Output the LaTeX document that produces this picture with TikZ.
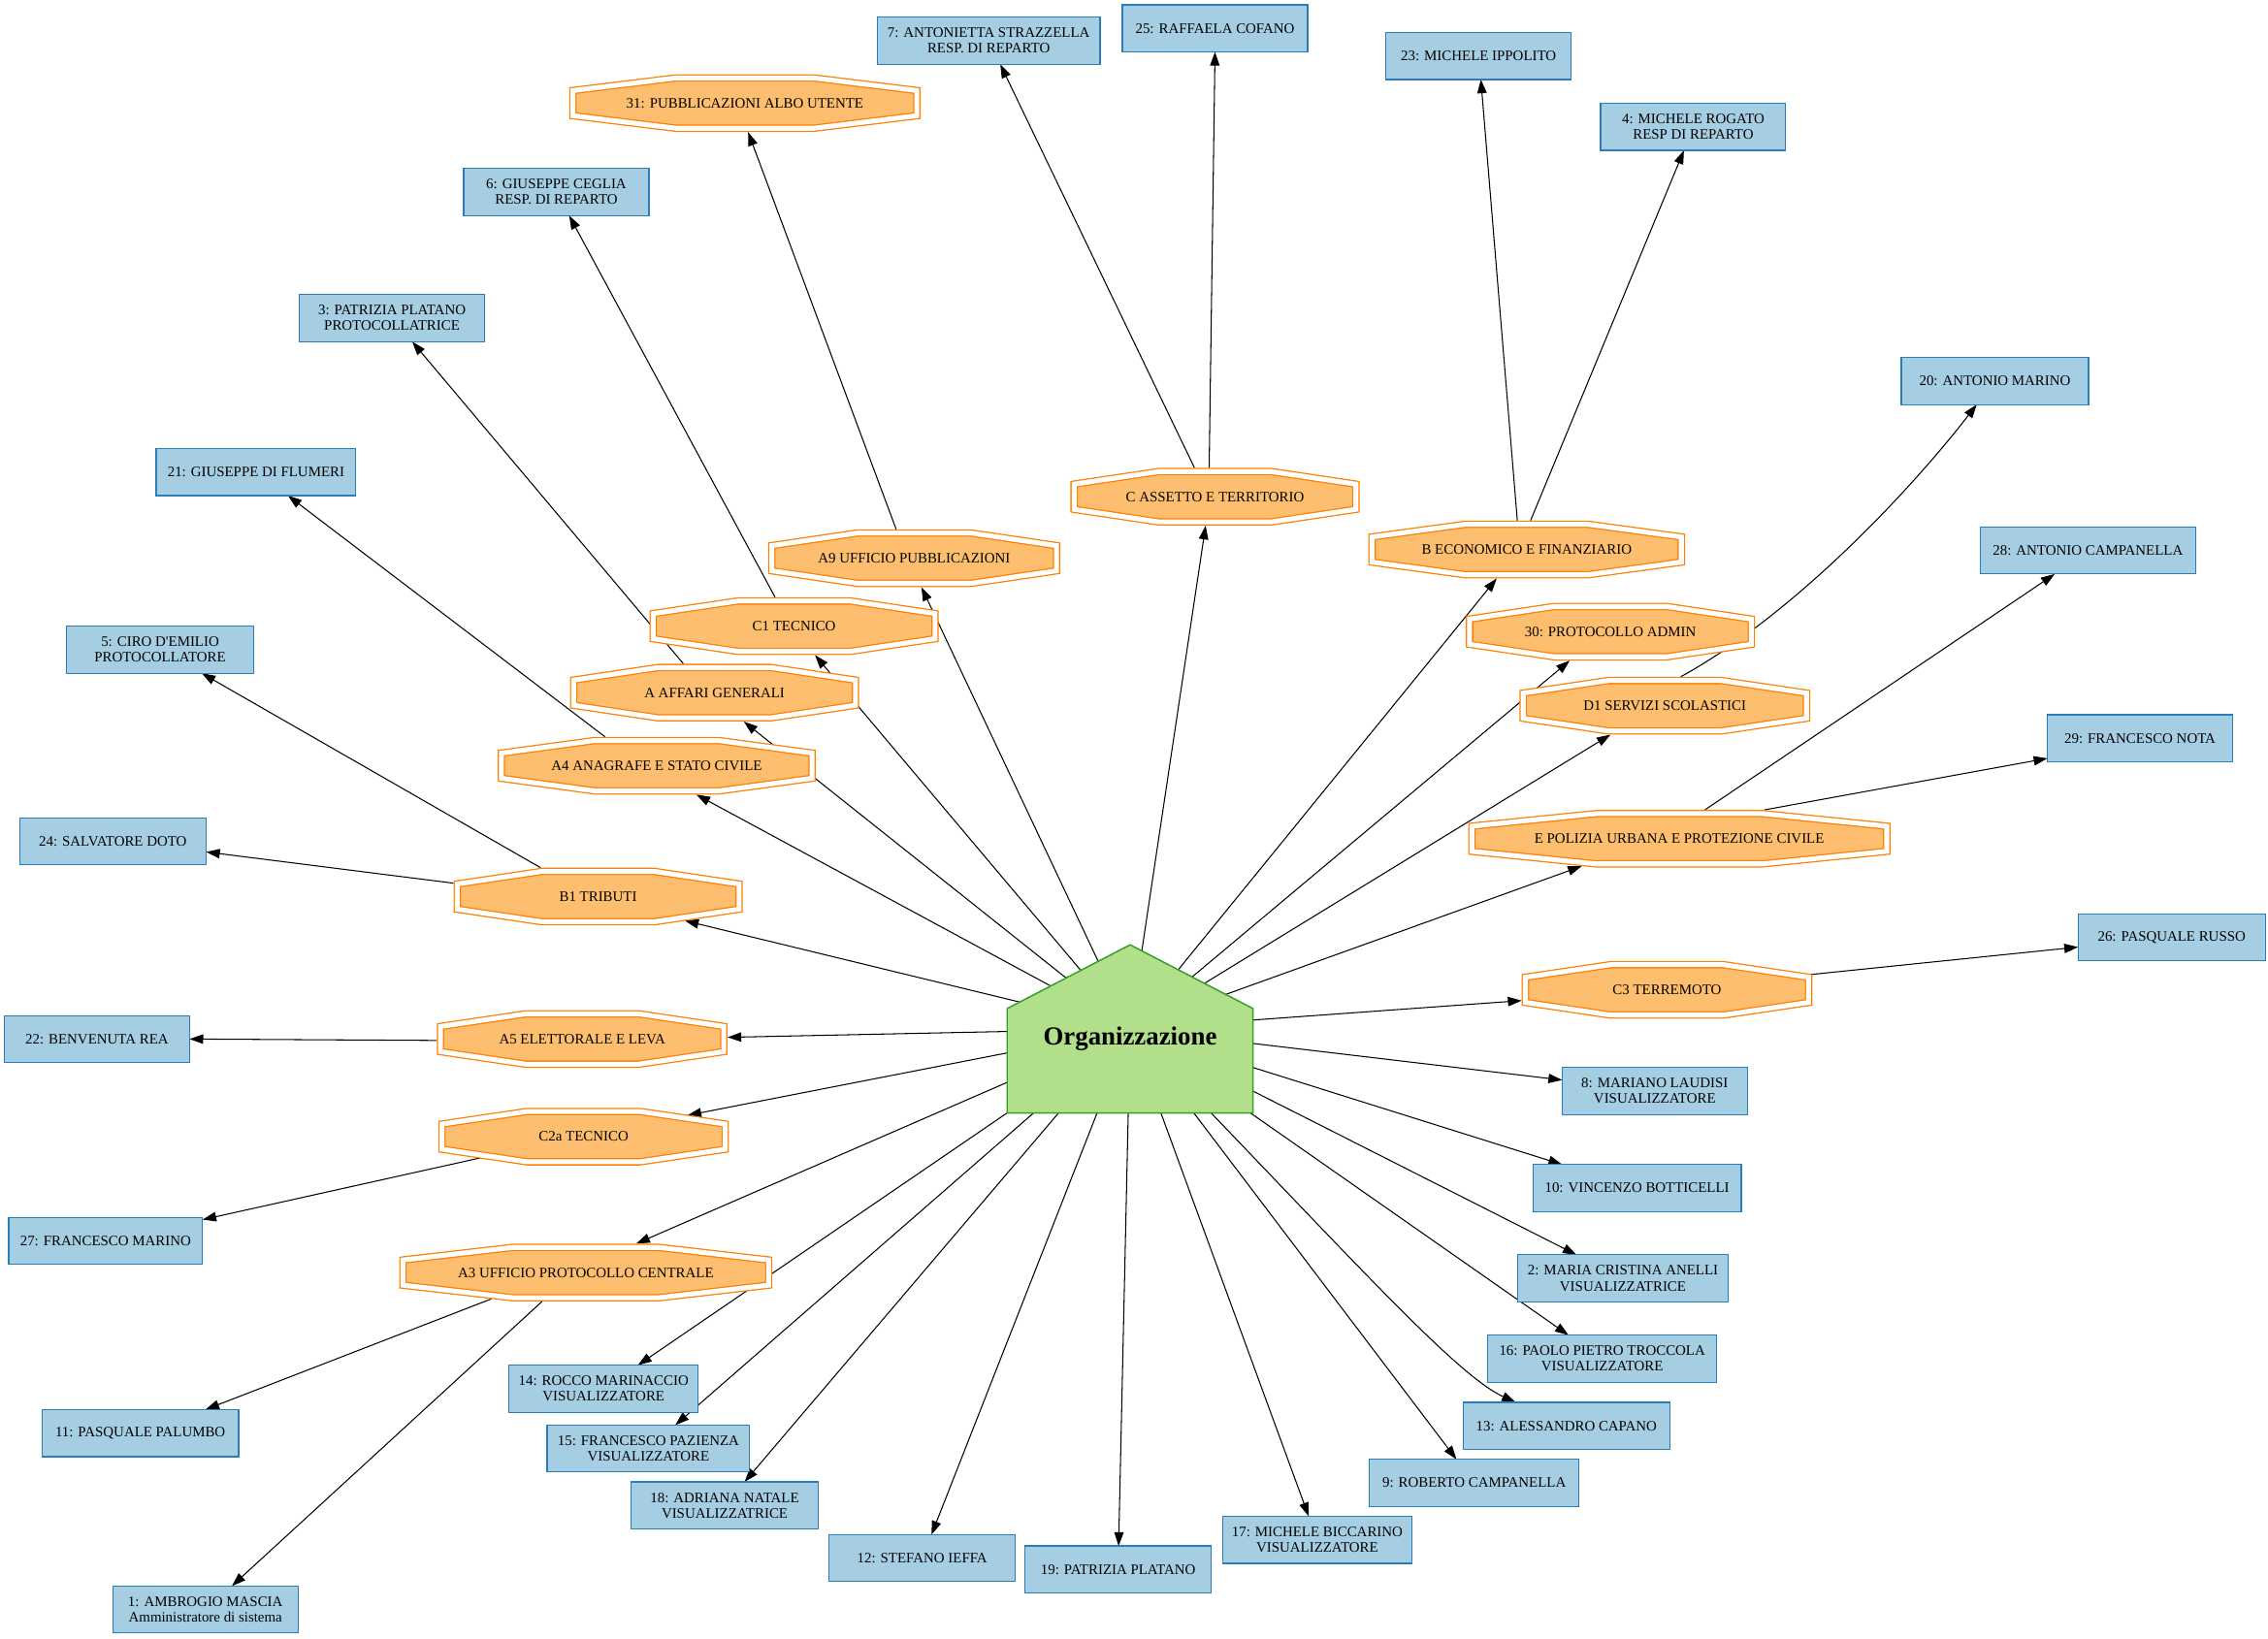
\documentclass[tikz,border=0pt]{standalone}
\usepackage{fontspec}
\setmainfont{Liberation Serif}
\usetikzlibrary{arrows.meta,calc}
\definecolor{boxfill}{HTML}{A6CEE3}
\definecolor{boxline}{HTML}{2A7DB8}
\definecolor{octfill}{HTML}{FDBF6F}
\definecolor{octline}{HTML}{FF7F00}
\definecolor{orgfill}{HTML}{B2DF8A}
\definecolor{orgline}{HTML}{33A02C}
\pgfdeclarelayer{edgelayer}
\pgfdeclarelayer{pentlayer}
\pgfsetlayers{edgelayer,pentlayer,main}

\makeatletter
\def\goct@d{2.6}
\def\goct@getgeom{%
  \southwest \edef\goct@xa{\the\pgf@x}\edef\goct@ya{\the\pgf@y}%
  \northeast \edef\goct@xb{\the\pgf@x}\edef\goct@yb{\the\pgf@y}%
  \pgfmathsetmacro\goct@cx{(\goct@xa+\goct@xb)/2}%
  \pgfmathsetmacro\goct@cy{(\goct@ya+\goct@yb)/2}%
  \pgfmathsetmacro\goct@W{(\goct@xb-\goct@xa)/2}%
  \pgfmathsetmacro\goct@H{(\goct@yb-\goct@ya)/2}%
}
\pgfdeclareshape{goct}{%
  \inheritsavedanchors[from=rectangle]%
  \inheritanchor[from=rectangle]{center}%
  \inheritanchor[from=rectangle]{north}%
  \inheritanchor[from=rectangle]{south}%
  \inheritanchor[from=rectangle]{east}%
  \inheritanchor[from=rectangle]{west}%
  \inheritanchor[from=rectangle]{text}%
  \inheritanchor[from=rectangle]{base}%
  \inheritanchor[from=rectangle]{mid}%
  \backgroundpath{%
    \goct@getgeom
    \pgfmathsetmacro\goct@w{\goct@W-\goct@d}%
    \pgfmathsetmacro\goct@h{\goct@H-\goct@d}%
    \pgfmathsetmacro\goct@xo{0.4*\goct@w}%
    \pgfmathsetmacro\goct@yo{0.5*\goct@h}%
    \pgfpathmoveto{\pgfpoint{\goct@cx pt-\goct@xo pt}{\goct@cy pt+\goct@h pt}}%
    \pgfpathlineto{\pgfpoint{\goct@cx pt+\goct@xo pt}{\goct@cy pt+\goct@h pt}}%
    \pgfpathlineto{\pgfpoint{\goct@cx pt+\goct@w pt}{\goct@cy pt+\goct@yo pt}}%
    \pgfpathlineto{\pgfpoint{\goct@cx pt+\goct@w pt}{\goct@cy pt-\goct@yo pt}}%
    \pgfpathlineto{\pgfpoint{\goct@cx pt+\goct@xo pt}{\goct@cy pt-\goct@h pt}}%
    \pgfpathlineto{\pgfpoint{\goct@cx pt-\goct@xo pt}{\goct@cy pt-\goct@h pt}}%
    \pgfpathlineto{\pgfpoint{\goct@cx pt-\goct@w pt}{\goct@cy pt-\goct@yo pt}}%
    \pgfpathlineto{\pgfpoint{\goct@cx pt-\goct@w pt}{\goct@cy pt+\goct@yo pt}}%
    \pgfpathclose
  }%
  \anchorborder{%
    \edef\goct@px{\the\pgf@x}\edef\goct@py{\the\pgf@y}%
    \goct@getgeom
    \pgfmathsetmacro\goct@dx{\goct@px-\goct@cx}%
    \pgfmathsetmacro\goct@dy{\goct@py-\goct@cy}%
    \pgfmathsetmacro\goct@len{max(veclen(\goct@dx,\goct@dy),0.001)}%
    \pgfmathsetmacro\goct@ux{\goct@dx/\goct@len}%
    \pgfmathsetmacro\goct@uy{\goct@dy/\goct@len}%
    \pgfmathsetmacro\goct@ax{max(abs(\goct@ux),0.02)}%
    \pgfmathsetmacro\goct@ay{max(abs(\goct@uy),0.02)}%
    \pgfmathsetmacro\goct@t{min(\goct@W/\goct@ax,\goct@H/\goct@ay,0.8*\goct@W*\goct@H/(0.5*\goct@H*\goct@ax+0.6*\goct@W*\goct@ay))}%
    \pgfmathsetmacro\goct@rx{\goct@cx+\goct@t*\goct@ux}%
    \pgfmathsetmacro\goct@ry{\goct@cy+\goct@t*\goct@uy}%
    \pgf@x=\goct@rx pt\relax
    \pgf@y=\goct@ry pt\relax
  }%
}
\makeatother

\tikzset{
  pbox/.style={rectangle, draw=boxline, fill=boxfill, line width=0.8pt,
    inner sep=0pt, outer sep=0pt, minimum height=32.5pt, minimum width=#1,
    align=center, font=\fontsize{10}{10.8}\selectfont},
  pbox/.default=128pt,
  unit/.style={shape=goct, draw=octline, fill=octfill, line width=0.85pt,
    double=white, double distance=3.4pt, inner sep=0pt, outer sep=0pt,
    minimum height=40pt, minimum width=#1, font=\fontsize{10}{12}\selectfont},
  unit/.default=200pt,
  conn/.style={draw=black, line width=0.7pt, -{Triangle[length=9.5pt,width=6.5pt]}},
}

\begin{document}
\begin{tikzpicture}[x=1pt,y=-1pt]
\useasboundingbox (0,0) rectangle (1568,1133);

% central node
\node[inner sep=0pt, outer sep=0pt, minimum width=170pt, minimum height=116.3pt,
  text height=21.8pt, text depth=0pt, font=\fontsize{18}{20}\selectfont\bfseries]
  (org) at (781.3,711.5) {Organizzazione};
\begin{pgfonlayer}{pentlayer}
\filldraw[fill=orgfill, draw=orgline, line width=1pt]
  (org.south west) -- (org.south east) -- ($(org.north east)+(0,44.1)$)
  -- (org.north) -- ($(org.north west)+(0,44.1)$) -- cycle;
\end{pgfonlayer}

% octagon units
\node[unit] (oC) at (840,343.5) {C ASSETTO E TERRITORIO};
\node[unit=202pt] (oA9) at (632,386) {A9 UFFICIO PUBBLICAZIONI};
\node[unit=219pt] (oB) at (1055.5,380) {B ECONOMICO E FINANZIARIO};
\node[unit] (oC1) at (549,433) {C1 TECNICO};
\node[unit] (o30) at (1113.4,436.8) {30: PROTOCOLLO ADMIN};
\node[unit] (oA) at (494,479) {A AFFARI GENERALI};
\node[unit=201pt] (oD1) at (1151,488) {D1 SERVIZI SCOLASTICI};
\node[unit=220pt] (oA4) at (454,529.5) {A4 ANAGRAFE E STATO CIVILE};
\node[unit=292pt] (oE) at (1161,580) {E POLIZIA URBANA E PROTEZIONE CIVILE};
\node[unit] (oB1) at (413.5,620) {B1 TRIBUTI};
\node[unit=201pt] (oC3) at (1152.5,684.5) {C3 TERREMOTO};
\node[unit=201pt] (oA5) at (402.5,718.5) {A5 ELETTORALE E LEVA};
\node[unit=201pt] (oC2a) at (403.5,786) {C2a TECNICO};
\node[unit=258pt] (oA3) at (405,880) {A3 UFFICIO PROTOCOLLO CENTRALE};
\node[unit=243pt] (o31) at (515,71.3) {31: PUBBLICAZIONI ALBO UTENTE};

% people
\node[pbox=154pt] (b7) at (683.5,28.2) {7: ANTONIETTA STRAZZELLA\\RESP. DI REPARTO};
\node[pbox] (b25) at (840,19.6) {25: RAFFAELA COFANO};
\node[pbox] (b23) at (1022.2,38.7) {23: MICHELE IPPOLITO};
\node[pbox] (b4) at (1170.6,87.7) {4: MICHELE ROGATO\\RESP DI REPARTO};
\node[pbox] (b6) at (384.6,132.8) {6: GIUSEPPE CEGLIA\\RESP. DI REPARTO};
\node[pbox] (b3) at (271,220) {3: PATRIZIA PLATANO\\PROTOCOLLATRICE};
\node[pbox=138pt] (b21) at (177,326.5) {21: GIUSEPPE DI FLUMERI};
\node[pbox=129pt] (b5) at (110.7,449.3) {5: CIRO D\textquotesingle EMILIO\\PROTOCOLLATORE};
\node[pbox=129pt] (b24) at (78,581.8) {24: SALVATORE DOTO};
\node[pbox] (b22) at (67,718.5) {22: BENVENUTA REA};
\node[pbox=134pt] (b27) at (73,858) {27: FRANCESCO MARINO};
\node[pbox=136pt] (b11) at (97,991) {11: PASQUALE PALUMBO};
\node[pbox] (b1) at (142,1113) {1: AMBROGIO MASCIA\\Amministratore di sistema};
\node[pbox=131pt] (b14) at (417.3,960.3) {14: ROCCO MARINACCIO\\VISUALIZZATORE};
\node[pbox=140pt] (b15) at (448.3,1001.7) {15: FRANCESCO PAZIENZA\\VISUALIZZATORE};
\node[pbox=129pt] (b18) at (501,1041) {18: ADRIANA NATALE\\VISUALIZZATRICE};
\node[pbox=129pt] (b12) at (637.6,1077.5) {12: STEFANO IEFFA};
\node[pbox=129pt] (b19) at (773,1085.3) {19: PATRIZIA PLATANO};
\node[pbox=131pt] (b17) at (910.7,1064.8) {17: MICHELE BICCARINO\\VISUALIZZATORE};
\node[pbox=145pt] (b9) at (1019.2,1025.4) {9: ROBERTO CAMPANELLA};
\node[pbox=143pt] (b13) at (1083,986) {13: ALESSANDRO CAPANO};
\node[pbox=158pt] (b16) at (1107.7,939.6) {16: PAOLO PIETRO TROCCOLA\\VISUALIZZATORE};
\node[pbox=145.6pt] (b2) at (1122,884) {2: MARIA CRISTINA ANELLI\\VISUALIZZATRICE};
\node[pbox=144pt] (b10) at (1131.8,821.6) {10: VINCENZO BOTTICELLI};
\node[pbox] (b8) at (1144,754.4) {8: MARIANO LAUDISI\\VISUALIZZATORE};
\node[pbox=129.5pt] (b26) at (1501.4,648.2) {26: PASQUALE RUSSO};
\node[pbox] (b29) at (1479.5,510.5) {29: FRANCESCO NOTA};
\node[pbox=149pt] (b28) at (1443.5,380.7) {28: ANTONIO CAMPANELLA};
\node[pbox=129.4pt] (b20) at (1379.2,263.5) {20: ANTONIO MARINO};

% connectors
\begin{pgfonlayer}{edgelayer}
\foreach \t in {oC,oA9,oC1,oA,oA4,oB1,oA5,oC2a,oA3,b14,b15,b18,b12,b19,b17,b9,b16,b2,b10,b8,oC3,oE,oD1,o30,oB}
  \draw[conn] (org.center) -- (\t);
\draw[conn] (org.center) .. controls (930,865) and (1005,950) .. (b13);
\draw[conn] (oC) -- (b7);
\draw[conn] (oC) -- (b25);
\draw[conn] (oA9) -- (o31);
\draw[conn] (oC1) -- (b6);
\draw[conn] (oA) -- (b3);
\draw[conn] (oA4) -- (b21);
\draw[conn] (oB1) -- (b5);
\draw[conn] (oB1) -- (b24);
\draw[conn] (oA5) -- (b22);
\draw[conn] (oC2a) -- (b27);
\draw[conn] (oA3) -- (b11);
\draw[conn] (oA3) -- (b1);
\draw[conn] (oB) -- (b23);
\draw[conn] (oB) -- (b4);
\draw[conn] (oD1) .. controls (1240,425) and (1320,340) .. (b20);
\draw[conn] (oE) -- (b28);
\draw[conn] (oE) -- (b29);
\draw[conn] (oC3) -- (b26);
\end{pgfonlayer}
\end{tikzpicture}
\end{document}
